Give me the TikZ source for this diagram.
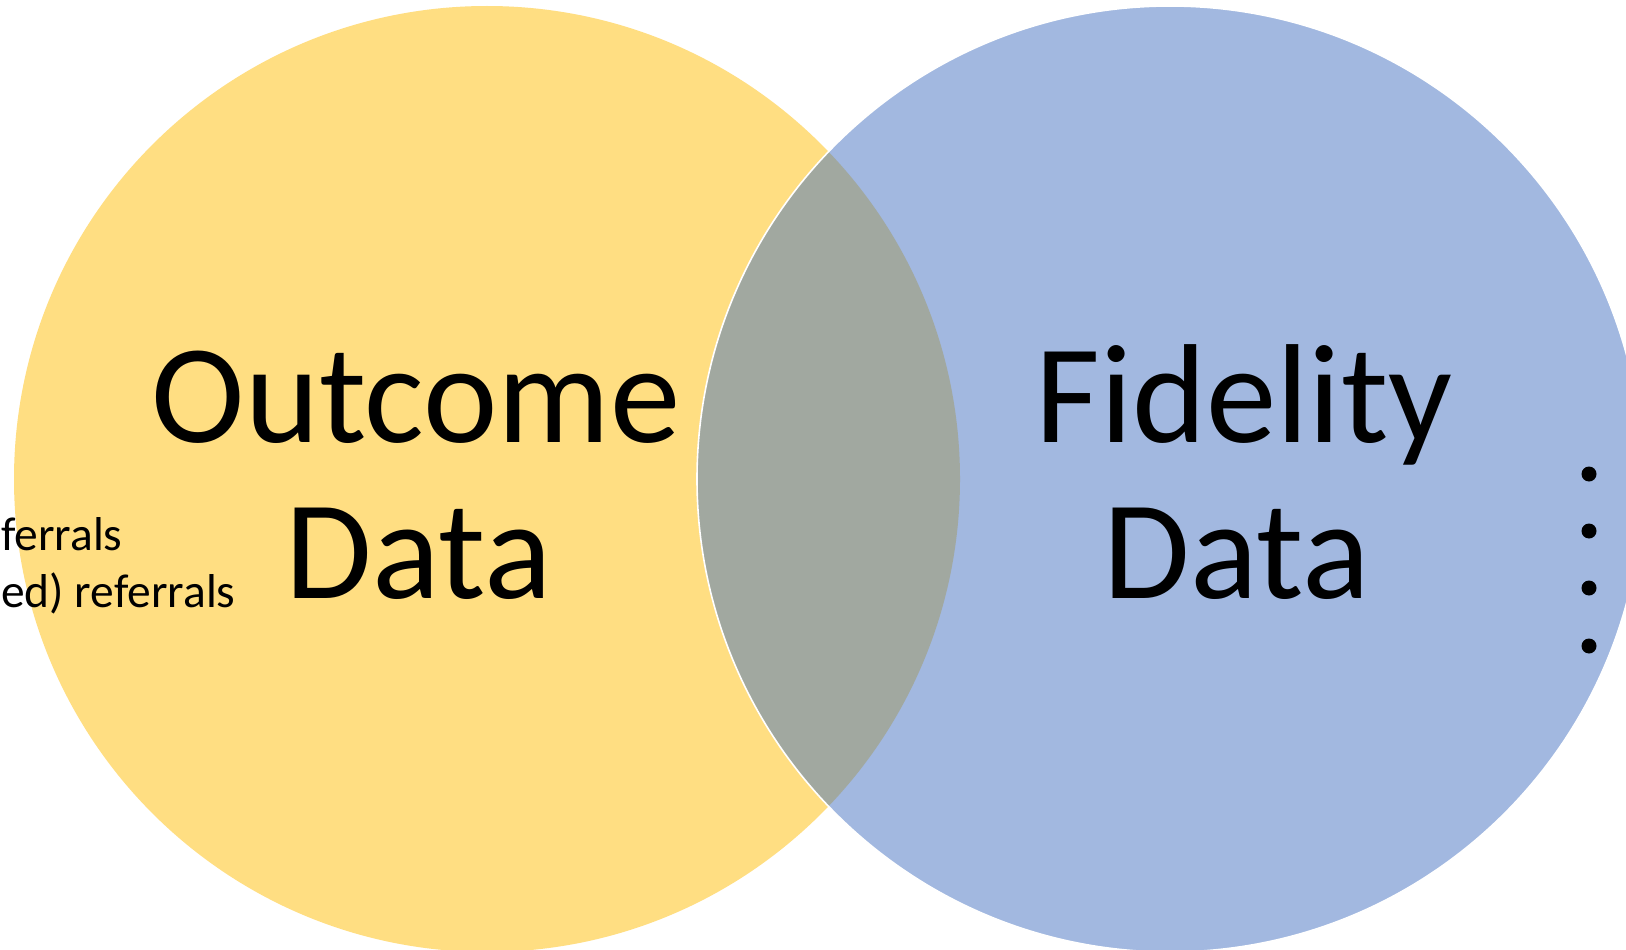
\documentclass[tikz,border=0pt]{standalone}
\usepackage{fontspec}
\setmainfont{Carlito}
\definecolor{outcomeyellow}{RGB}{255,222,130}
\definecolor{fidelityblue}{RGB}{162,184,224}
\definecolor{overlapgray}{RGB}{161,168,160}
\tikzset{
  setcircle/.style={circle, inner sep=0pt, minimum size=946pt},
  bigtext/.style={anchor=base, inner sep=0pt, font=\fontsize{141}{150}\selectfont},
  smalltext/.style={anchor=base west, inner sep=0pt, font=\fontsize{47.5}{52}\selectfont},
  bulletdot/.style={circle, fill=black, inner sep=0pt, minimum size=15pt}
}
\begin{document}
\begin{tikzpicture}[x=1pt, y=-1pt]
  \useasboundingbox (0,0) rectangle (1626,950);
  \clip (0,0) rectangle (1626,950);
  \fill[white] (0,0) rectangle (1626,950);

  % the two sets
  \node[setcircle, fill=outcomeyellow] (outcome) at (487,479) {};
  \node[setcircle, fill=fidelityblue] (fidelity) at (1170,479) {};

  % overlap of the two sets
  \begin{scope}
    \clip (487,479) circle (473);
    \fill[overlapgray] (1170,479) circle (473);
  \end{scope}
  \draw[white, line width=1.6pt] (1170,479) circle (473);

  % set labels
  \node[bigtext] (outcomeA) at (416,442) {Outcome};
  \node[bigtext] (outcomeB) at (419,598) {Data};
  \node[bigtext] (fidelityA) at (1244,442) {Fidelity};
  \node[bigtext] (fidelityB) at (1237,598) {Data};

  % list entries at the left edge
  \node[smalltext] (refA) at (1,550) {ferrals};
  \node[smalltext] (refB) at (1,607) {ed) referrals};

  % list bullets at the right edge
  \node[bulletdot] (dotA) at (1589,474) {};
  \node[bulletdot] (dotB) at (1589,531) {};
  \node[bulletdot] (dotC) at (1589,588) {};
  \node[bulletdot] (dotD) at (1589,646) {};
\end{tikzpicture}
\end{document}
